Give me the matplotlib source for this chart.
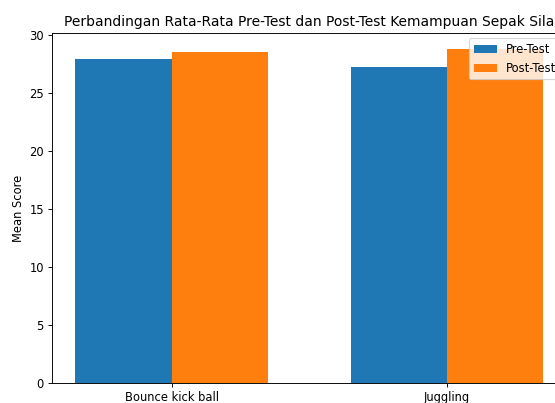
import numpy as np
import matplotlib
matplotlib.use('Agg')
import matplotlib.pyplot as plt

categories = ['Bounce kick ball', 'Juggling']
pre_test = [27.9, 27.2]
post_test = [28.5, 28.75]

W, H = 555, 403
DPI = 83  # the original looks downscaled, so render at a lower dpi
fig = plt.figure(figsize=(W / DPI, H / DPI), dpi=DPI)
# axes runs past the right edge, like the cropped original
ax = fig.add_axes([52 / W, 19.7 / H, 514.6 / W, 350.6 / H])

x = np.arange(len(categories))
width = 0.35
ax.bar(x - width / 2, pre_test, width, label='Pre-Test')
ax.bar(x + width / 2, post_test, width, label='Post-Test')

ax.set_xticks(x)
ax.set_xticklabels(categories)
ax.set_ylabel('Mean Score')
ax.set_title('Perbandingan Rata-Rata Pre-Test dan Post-Test Kemampuan Sepak Sila')
ax.legend()

fig.savefig('out.png', dpi=DPI)
